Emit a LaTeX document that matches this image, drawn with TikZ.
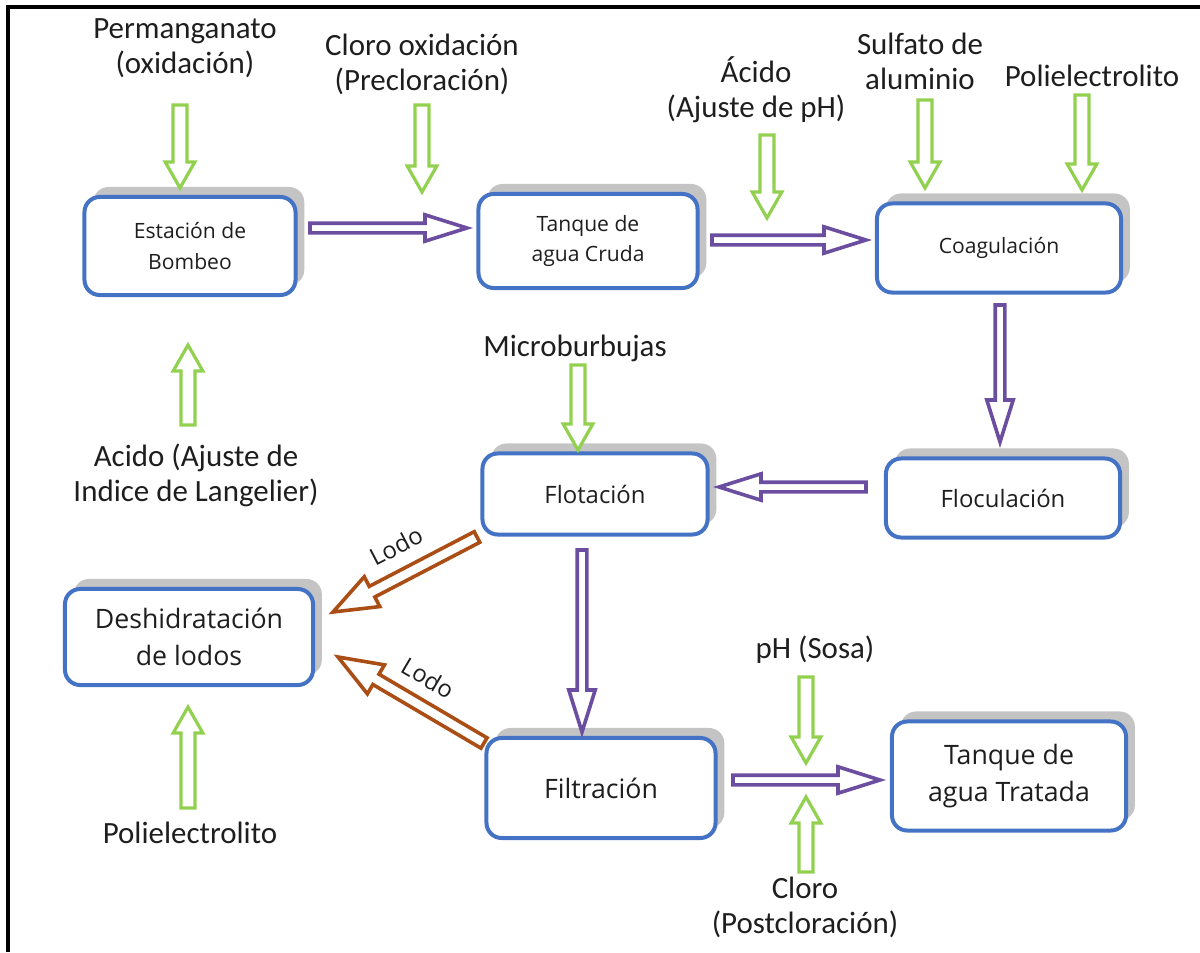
\documentclass[tikz,border=0pt]{standalone}
\usepackage{fontspec}
\setmainfont{Carlito}
\newfontfamily\boxfont{Open Sans}
\usetikzlibrary{calc,shadows}
\definecolor{gr}{RGB}{146,208,80}
\definecolor{pu}{RGB}{108,78,160}
\definecolor{br}{RGB}{170,78,22}
\definecolor{bl}{RGB}{68,114,196}
\definecolor{sh}{RGB}{196,196,196}
\definecolor{tx}{RGB}{30,30,30}
\newcommand\harrow[7]{%
 \path (#2) coordinate (hs) (#3) coordinate (ht);
 \coordinate (hh) at ($(ht)!#6!(hs)$);
 \draw[#1, fill=white, line width=#7, line join=miter]
  ($(hs)!#4!-90:(ht)$) -- ($(hh)!#4!-90:(ht)$) -- ($(hh)!#5!-90:(ht)$) -- (ht)
  -- ($(hh)!#5!90:(ht)$) -- ($(hh)!#4!90:(ht)$) -- ($(hs)!#4!90:(ht)$) -- cycle;}
\newcommand\garrow[2]{\harrow{gr}{#1}{#2}{0.175cm}{0.37cm}{0.65cm}{0.08cm}}
\newcommand\parrow[2]{\harrow{pu}{#1}{#2}{0.12cm}{0.33cm}{1.05cm}{0.09cm}}
\newcommand\barrow[2]{\harrow{br}{#1}{#2}{0.15cm}{0.42cm}{1.1cm}{0.09cm}}
\tikzset{
 box/.style={draw=bl, line width=0.1cm, rounded corners=0.38cm, fill=white, align=center,
   inner sep=0pt, text=tx, general shadow={fill=sh, shadow xshift=0.22cm, shadow yshift=0.25cm}},
 fs/.style={font=\boxfont\fontsize{15}{22}\selectfont},
 fm/.style={font=\boxfont\fontsize{17}{24}\selectfont},
 fl/.style={font=\boxfont\fontsize{19}{26.5}\selectfont},
 lab/.style={align=center, text=tx, inner sep=0pt, font=\fontsize{22}{25}\selectfont},
 lodo/.style={text=tx, inner sep=0pt, font=\boxfont\fontsize{17}{18}\selectfont}
}
\begin{document}
\begin{tikzpicture}[x=0.025cm, y=-0.025cm]
\useasboundingbox (0,0) rectangle (1200,952);
\draw[line width=0.1cm] (8,952) -- (8,7) -- (1200,7);

% boxes
\node[box, fs, minimum width=5.275cm, minimum height=2.45cm] (bomb) at (190,246) {Estación de\\Bombeo};
\node[box, fs, minimum width=5.475cm, minimum height=2.35cm] (cruda) at (588,241) {Tanque de\\agua Cruda};
\node[box, fs, minimum width=6.1cm, minimum height=2.225cm] (coag) at (999,248) {Coagulación};
\node[box, fm, minimum width=5.85cm, minimum height=1.975cm] (floc) at (1003,498) {Floculación};
\node[box, fm, minimum width=5.625cm, minimum height=2.025cm] (flot) at (595,494) {Flotación};
\node[box, fl, minimum width=6.2cm, minimum height=2.4cm] (deshid) at (189,637) {Deshidratación\\de lodos};
\node[box, fl, minimum width=5.725cm, minimum height=2.5cm] (filt) at (601,788) {Filtración};
\node[box, fl, minimum width=5.85cm, minimum height=2.725cm] (tt) at (1009,776) {Tanque de\\agua Tratada};

% labels
\node[lab] (perm) at (185,48) {Permanganato\\(oxidación)};
\node[lab] (clox) at (422,64) {Cloro oxidación\\(Precloración)};
\node[lab] (acid) at (756,90) {Ácido\\(Ajuste de pH)};
\node[lab] (sulf) at (920,61) {Sulfato de\\aluminio};
\node[lab] (poli1) at (1092,76) {Polielectrolito};
\node[lab] (micro) at (575,348) {Microburbujas};
\node[lab] (lang) at (196,475) {Acido (Ajuste de\\Indice de Langelier)};
\node[lab] (poli2) at (190,833) {Polielectrolito};
\node[lab] (ph) at (815,650) {pH (Sosa)};
\node[lab] (clpost) at (805,907) {Cloro\\(Postcloración)};

% green arrows
\garrow{$(perm)+(-5,57)$}{$(bomb)+(-10,-58)$}
\garrow{$(clox)+(0,41)$}{$(clox)+(0,128)$}
\garrow{$(acid)+(11,45)$}{$(acid)+(11,128)$}
\garrow{$(sulf)+(5,39)$}{$(coag)+(-74,-60)$}
\garrow{$(poli1)+(-10,19)$}{$(coag)+(83,-58)$}
\garrow{$(micro)+(3,17)$}{$(flot)+(-17,-44)$}
\garrow{$(lang)+(-8,-50)$}{$(bomb)+(-2,99)$}
\garrow{$(poli2)+(-2,-25)$}{$(deshid)+(-1,70)$}
\garrow{$(ph)+(-9,27)$}{$(ph)+(-9,113)$}
\garrow{$(clpost)+(1,-35)$}{$(clpost)+(1,-110)$}

% purple arrows
\parrow{$(bomb)+(120,-18)$}{$(cruda)+(-121,-13)$}
\parrow{$(cruda)+(124,-1)$}{$(coag)+(-133,-8)$}
\parrow{$(coag)+(1,57)$}{$(floc)+(-3,-56)$}
\parrow{$(floc)+(-137,-11)$}{$(flot)+(124,-7)$}
\parrow{$(flot)+(-13,56)$}{$(filt)+(-19,-56)$}
\parrow{$(filt)+(132,-8)$}{$(tt)+(-129,4)$}

% brown arrows
\barrow{$(flot)+(-118,43)$}{$(deshid)+(144,-25)$}
\barrow{$(filt)+(-117,-45)$}{$(deshid)+(149,20)$}
\node[lodo, rotate=27.5] (lodo1) at (396,546) {Lodo};
\node[lodo, rotate=-30.5] (lodo2) at (428,678) {Lodo};
\end{tikzpicture}
\end{document}
